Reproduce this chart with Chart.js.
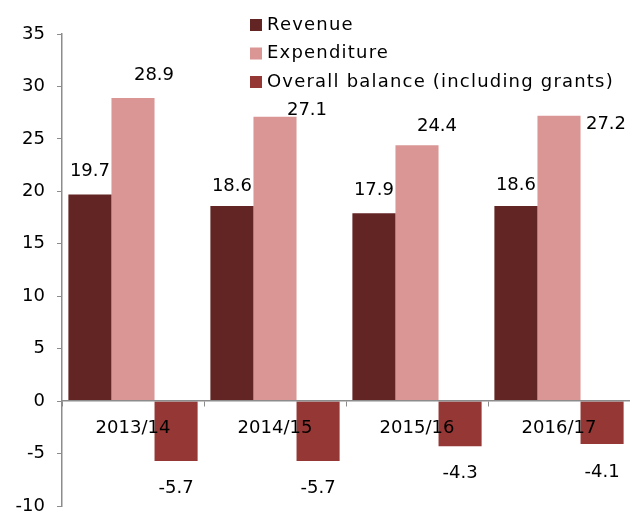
<!DOCTYPE html>
<html>
<head>
<meta charset="utf-8">
<style>
  html, body { margin: 0; padding: 0; background: #fff; }
  #wrap { width: 630px; height: 513px; }
</style>
<script src="https://cdn.jsdelivr.net/npm/chart.js@4.4.1/dist/chart.umd.min.js"></script>
</head>
<body>
<div id="wrap"><canvas id="chart"></canvas></div>
<script>
// data (% of GDP)
const years = ["2013/14", "2014/15", "2015/16", "2016/17"];
const revenue = [19.7, 18.6, 17.9, 18.6];
const expenditure = [28.9, 27.1, 24.4, 27.2];
const balance = [-5.7, -5.7, -4.3, -4.1];
const yTicks = [-10, -5, 0, 5, 10, 15, 20, 25, 30, 35];

const FONT = "'DejaVu Sans', sans-serif";

// Excel labels were nudged by hand, so keep per-point offsets [dx, dy] from the default spot
const labelNudge = [
  [[0, 0], [0, 3], [0, 0], [0, 2]],
  [[21, 0], [32, 16], [20, 4], [47, 32]],
  [[0, 0], [0, 0], [0, 0], [0, 1]],
];

const valueLabels = {
  id: "valueLabels",
  afterDatasetsDraw(chart) {
    const ctx = chart.ctx;
    ctx.save();
    ctx.font = "18px " + FONT;
    ctx.fillStyle = "#000";
    ctx.textAlign = "center";
    ctx.textBaseline = "middle";
    chart.data.datasets.forEach((ds, i) => {
      chart.getDatasetMeta(i).data.forEach((bar, j) => {
        const v = ds.data[j];
        const [dx, dy] = labelNudge[i][j];
        const y = v >= 0 ? bar.y - 23 : bar.y + 27;
        ctx.fillText(v.toFixed(1), bar.x + dx, y + dy);
      });
    });
    ctx.restore();
  }
};

const sideLegend = {
  id: "sideLegend",
  afterDraw(chart) {
    const ctx = chart.ctx;
    ctx.save();
    ctx.font = "18px " + FONT;
    ctx.letterSpacing = "1.2px";
    ctx.textBaseline = "middle";
    chart.data.datasets.forEach((ds, i) => {
      const y = 25 + i * 28.5;
      ctx.fillStyle = ds.backgroundColor;
      ctx.fillRect(250, y - 6, 12, 12);
      ctx.fillStyle = "#000";
      ctx.fillText(ds.label, 267, y);
    });
    ctx.restore();
  }
};

new Chart(document.getElementById("chart"), {
  type: "bar",
  data: {
    labels: years,
    datasets: [
      { label: "Revenue", data: revenue, backgroundColor: "#632523" },
      { label: "Expenditure", data: expenditure, backgroundColor: "#d99694" },
      { label: "Overall balance (including grants)", data: balance, backgroundColor: "#953735" },
    ]
  },
  options: {
    responsive: true,
    maintainAspectRatio: false,
    animation: false,
    layout: { padding: { top: 34, bottom: 7, left: 0, right: 0 } },
    datasets: { bar: { categoryPercentage: 0.91, barPercentage: 1.0 } },
    plugins: { legend: { display: false }, tooltip: { enabled: false } },
    scales: {
      x: {
        position: { y: 0 },
        grid: { drawOnChartArea: false, tickLength: 5, color: "#8c8c8c", z: 1 },
        border: { color: "#8c8c8c", width: 1.5, z: 1 },
        ticks: { color: "#000", font: { family: FONT, size: 18 }, padding: 11, maxRotation: 0, z: 1 }
      },
      y: {
        min: -10,
        max: 35,
        afterBuildTicks(scale) { scale.ticks = yTicks.map(v => ({ value: v })); },
        afterFit(scale) { scale.width = 62; scale.paddingTop = 0; scale.paddingBottom = 0; },
        grid: { drawOnChartArea: false, tickLength: 5, color: "#8c8c8c" },
        border: { color: "#8c8c8c", width: 1.5 },
        ticks: { color: "#000", font: { family: FONT, size: 18 }, padding: 12 }
      }
    }
  },
  plugins: [valueLabels, sideLegend]
});
</script>
</body>
</html>
